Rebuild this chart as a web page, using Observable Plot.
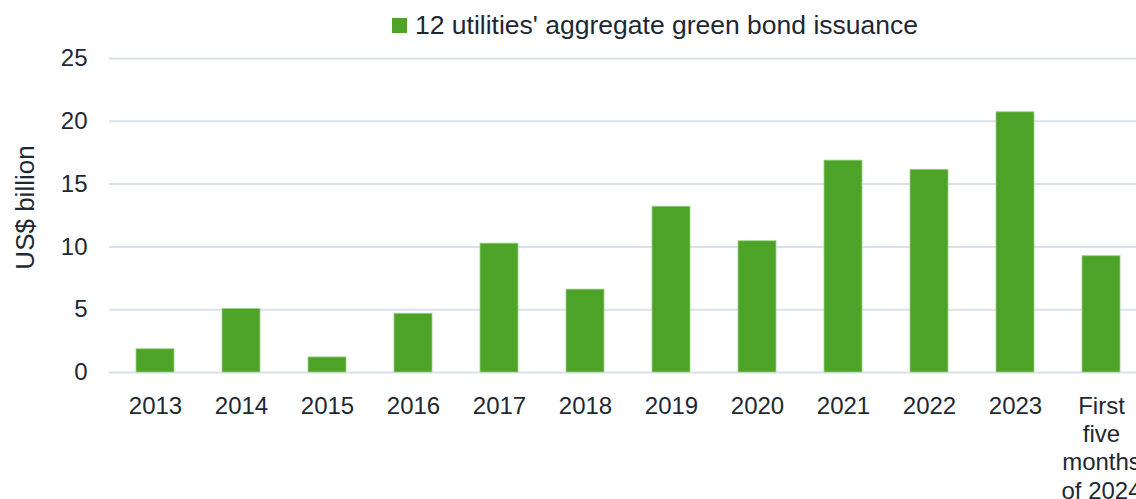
<!DOCTYPE html>
<html>
<head>
<meta charset="utf-8">
<script src="https://cdn.jsdelivr.net/npm/d3@7"></script>
<script src="https://cdn.jsdelivr.net/npm/@observablehq/plot@0.6"></script>
<style>
  html, body { margin: 0; padding: 0; background: #fff; overflow: hidden; width: 1136px; height: 499px; }
  #legend { position: relative; height: 45px; font-family: "Liberation Sans", Arial, sans-serif; font-size: 26.5px; color: #1e2833; }
  #legend .sw { position: absolute; left: 392px; top: 18px; width: 15px; height: 15px; }
  #legend .lab { position: absolute; left: 415px; top: 11px; line-height: 28px; white-space: nowrap; }
  #chart svg { overflow: hidden; display: block; }
</style>
</head>
<body>
<div id="legend"><span class="sw"></span><span class="lab"></span></div>
<div id="chart"></div>
<script>
const categories = ["2013", "2014", "2015", "2016", "2017", "2018", "2019", "2020", "2021", "2022", "2023", "First\nfive\nmonths\nof 2024"];
const issuance = [1.85, 5.05, 1.2, 4.68, 10.26, 6.6, 13.2, 10.45, 16.87, 16.14, 20.72, 9.26];
const yTicks = [0, 5, 10, 15, 20, 25];
const seriesName = "12 utilities' aggregate green bond issuance";
const yLabel = "US$ billion";

const barColor = "#4ca327";
const textColor = "#1e2833";

const data = categories.map((c, i) => ({category: c, value: issuance[i]}));

document.querySelector("#legend .sw").style.background = barColor;
document.querySelector("#legend .lab").textContent = seriesName;

const chart = Plot.plot({
  width: 1136,
  height: 454,
  marginLeft: 109,
  marginRight: 0,
  marginTop: 13,
  marginBottom: 127,
  style: {fontFamily: "'Liberation Sans', Arial, sans-serif", fontSize: "24px", color: textColor, background: "#fff"},
  x: {type: "band", domain: categories, range: [109.2, 1146.2], paddingInner: 0.56, paddingOuter: 0.28},
  y: {domain: [0, 25]},
  marks: [
    Plot.gridY(yTicks, {stroke: "#d9e2eb", strokeOpacity: 1, strokeWidth: 2}),
    Plot.barY(data, {x: "category", y: "value", fill: barColor, stroke: "#9fd08a", strokeWidth: 0.8}),
    Plot.axisY(yTicks, {tickSize: 0, tickPadding: 22, fontSize: 24, fill: textColor, label: null}),
    Plot.axisX({tickSize: 0, tickPadding: 21, fontSize: 24, fill: textColor, lineHeight: 1.18, label: null}),
    Plot.text([yLabel], {frameAnchor: "left", textAnchor: "middle", rotate: -90, dx: -84, dy: -8, fontSize: 26, fill: textColor})
  ]
});
document.getElementById("chart").appendChild(chart);
</script>
</body>
</html>
